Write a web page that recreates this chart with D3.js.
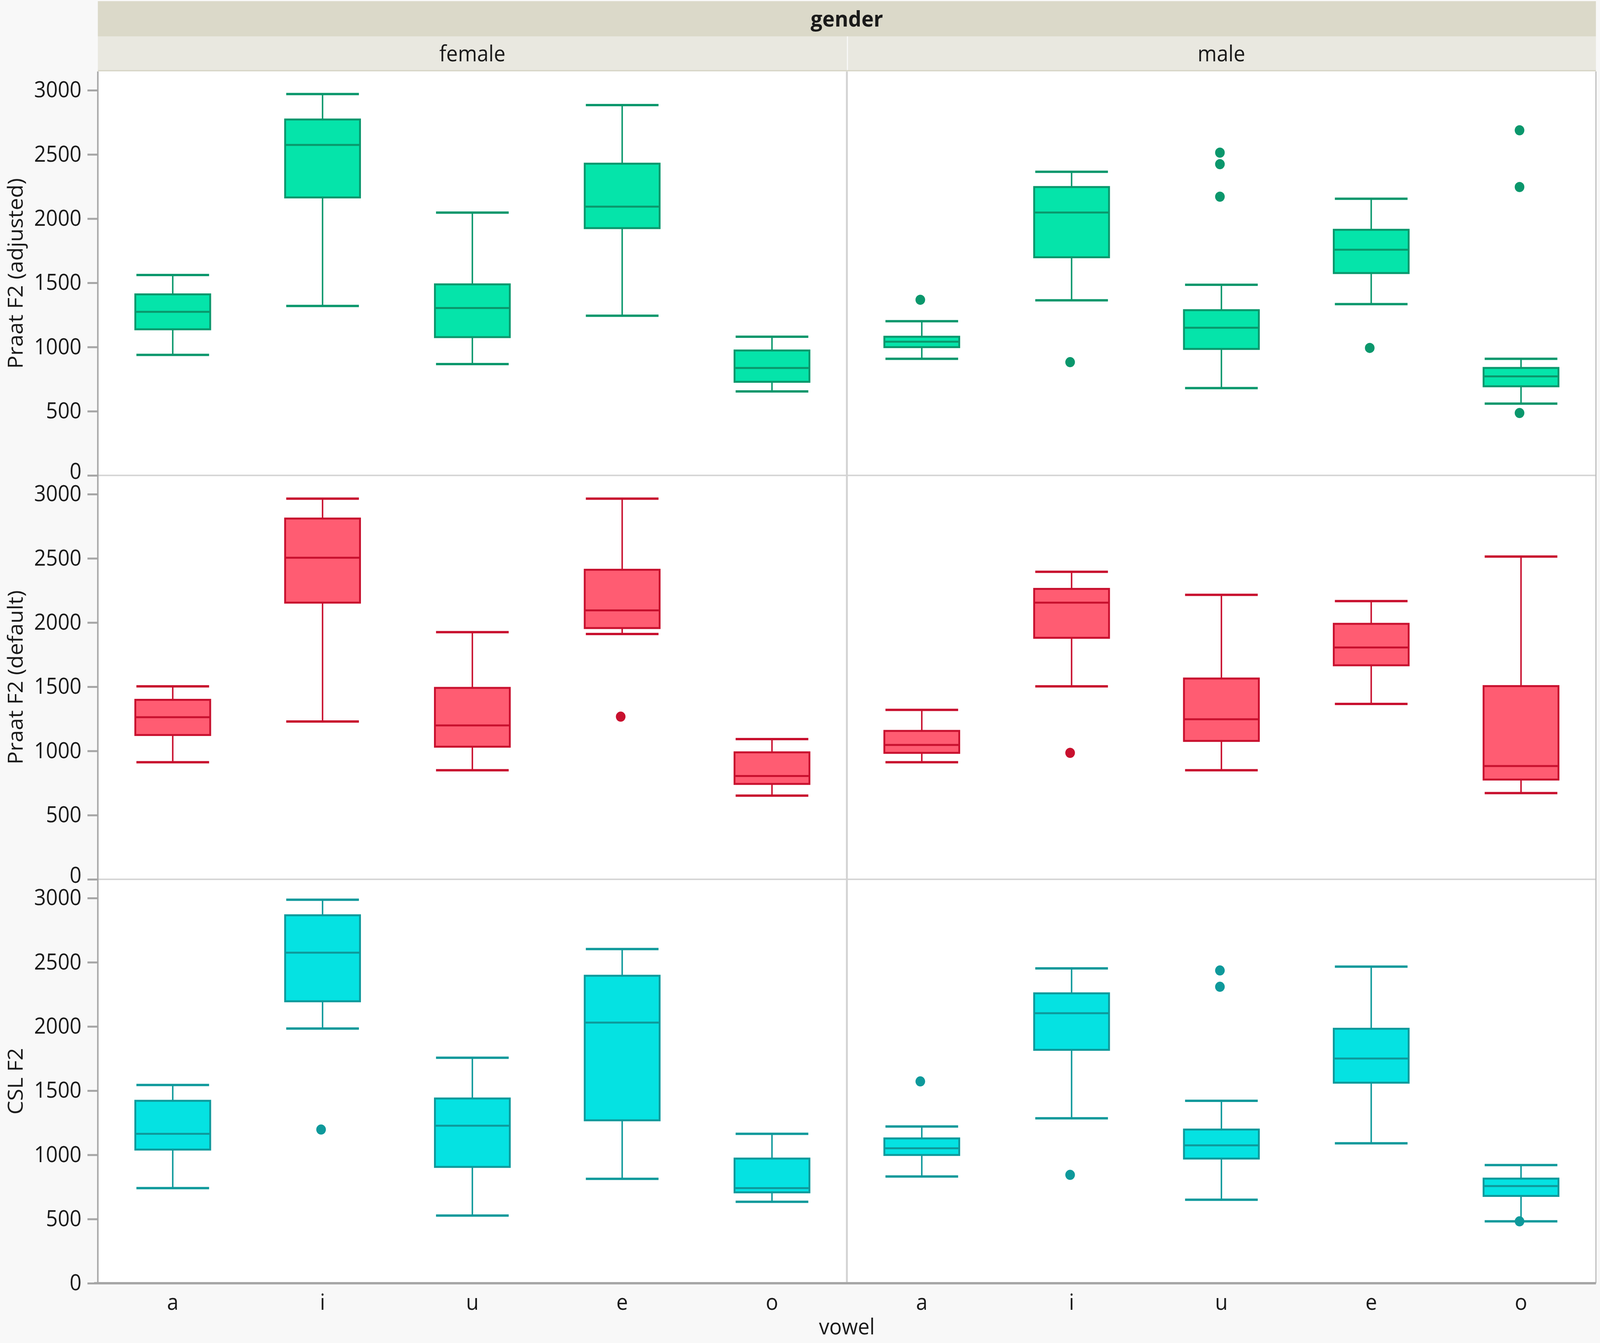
<!DOCTYPE html>
<html>
<head>
<meta charset="utf-8">
<script src="https://cdn.jsdelivr.net/npm/d3@7"></script>
<style>
  html, body { margin: 0; padding: 0; background: #f8f8f8; overflow: hidden; }
  svg { display: block; width: 100vw; height: 100vh; }
  text { font-family: "Open Sans", "Noto Sans", sans-serif; fill: #1a1a1a; }
</style>
</head>
<body>
<div id="chart"></div>
<script>
// categories
const vowels = ["a", "i", "u", "e", "o"];
const genders = ["female", "male"];
const measures = ["Praat F2 (adjusted)", "Praat F2 (default)", "CSL F2"];
const yTicks = [0, 500, 1000, 1500, 2000, 2500, 3000];

// box stats per vowel: [whisker low, q1, median, q3, whisker high]
const adjustedFemale = [[939, 1138, 1274, 1410, 1561], [1320, 2165, 2574, 2772, 2970], [867, 1077, 1304, 1488, 2047], [1244, 1926, 2093, 2428, 2884], [654, 729, 837, 973, 1080]];
const adjustedMale = [[908, 999, 1041, 1080, 1201], [1364, 1699, 2048, 2246, 2365], [680, 985, 1150, 1287, 1485], [1334, 1576, 1758, 1913, 2155], [559, 694, 771, 837, 908]];
const defaultFemale = [[912, 1124, 1263, 1398, 1503], [1229, 2155, 2505, 2810, 2965], [850, 1033, 1199, 1491, 1925], [1911, 1957, 2095, 2411, 2965], [652, 743, 805, 989, 1092]];
const defaultMale = [[912, 985, 1047, 1156, 1320], [1503, 1881, 2155, 2262, 2395], [850, 1078, 1247, 1564, 2216], [1366, 1667, 1806, 1990, 2167], [672, 777, 882, 1505, 2514]];
const cslFemale = [[741, 1041, 1164, 1421, 1544], [1984, 2196, 2575, 2866, 2987], [527, 906, 1227, 1439, 1756], [813, 1269, 2030, 2395, 2603], [634, 708, 741, 971, 1164]];
const cslMale = [[831, 999, 1051, 1128, 1221], [1285, 1818, 2103, 2258, 2452], [650, 971, 1074, 1197, 1421], [1090, 1562, 1750, 1982, 2466], [482, 680, 757, 815, 920]];

// outliers per vowel
const adjustedFemaleOut = [[], [], [], [], []];
const adjustedMaleOut = [[1368], [882], [2514, 2424, 2171], [993], [2688, 2246, 486]];
const defaultFemaleOut = [[], [], [], [1267], []];
const defaultMaleOut = [[], [985], [], [], []];
const cslFemaleOut = [[], [1197], [], [], []];
const cslMaleOut = [[1572], [844], [2436, 2309], [], [482]];

const panelStats = [[adjustedFemale, adjustedMale], [defaultFemale, defaultMale], [cslFemale, cslMale]];
const panelOut = [[adjustedFemaleOut, adjustedMaleOut], [defaultFemaleOut, defaultMaleOut], [cslFemaleOut, cslMaleOut]];

const rowFill = ["#05e4aa", "#ff5c72", "#05e2e2"];
const rowStroke = ["#0a976c", "#c8102e", "#0e999b"];

const W = 4317, H = 3438;
const plotLeft = 264, plotRight = 4306, mid = 2285;
const plotTop = 183, rowH = 1034;
const fs = 56;

// scale the drawing to whatever the window is
const svg = d3.select("#chart").append("svg")
  .attr("viewBox", `0 0 ${W} ${H}`)
  .attr("preserveAspectRatio", "none");

svg.append("rect").attr("width", W).attr("height", H).attr("fill", "#f8f8f8");

// header strips
svg.append("rect").attr("x", plotLeft).attr("y", 3).attr("width", plotRight - plotLeft).attr("height", 90).attr("fill", "#dbd9c9");
svg.append("text").attr("x", (plotLeft + plotRight) / 2).attr("y", 48).attr("dy", "0.35em")
  .attr("text-anchor", "middle").attr("font-size", fs).attr("font-weight", "bold").text("gender");

const panelX = [[plotLeft, mid], [mid, plotRight]];
genders.forEach((g, gi) => {
  const [x0, x1] = panelX[gi];
  svg.append("rect").attr("x", x0 + (gi ? 3 : 0)).attr("y", 93).attr("width", x1 - x0 - (gi ? 3 : 0)).attr("height", 88).attr("fill", "#e9e8e0");
  svg.append("text").attr("x", (x0 + x1) / 2).attr("y", 137).attr("dy", "0.35em")
    .attr("text-anchor", "middle").attr("font-size", fs).text(g);
});
svg.append("line").attr("x1", plotLeft).attr("x2", plotRight).attr("y1", 181).attr("y2", 181)
  .attr("stroke", "#d5d3c3").attr("stroke-width", 3);

// plot background
svg.append("rect").attr("x", plotLeft).attr("y", plotTop).attr("width", plotRight - plotLeft).attr("height", rowH * 3).attr("fill", "#fff");

measures.forEach((m, ri) => {
  const y0 = plotTop + ri * rowH, y1 = y0 + rowH;
  const y = d3.scaleLinear().domain([0, 3146]).range([y1, y0]);

  // row separator
  if (ri < 2) {
    svg.append("line").attr("x1", plotLeft).attr("x2", plotRight).attr("y1", y1).attr("y2", y1)
      .attr("stroke", "#d6d6d6").attr("stroke-width", 4);
  }

  const yAxis = svg.append("g").attr("transform", `translate(${plotLeft},0)`)
    .call(d3.axisLeft(y).tickValues(yTicks).tickFormat(d3.format("d"))
      .tickSize(28).tickSizeOuter(0).tickPadding(16));
  yAxis.select(".domain").remove();
  yAxis.selectAll(".tick line").attr("stroke", "#a6a6a6").attr("stroke-width", 5);
  yAxis.selectAll(".tick text").attr("font-size", fs).attr("fill", "#1a1a1a")
    .attr("font-family", "Open Sans, Noto Sans, sans-serif");
  // zero label sits a little high so it clears the next row's 3000
  if (ri < 2) yAxis.selectAll(".tick text").filter(d => d === 0).attr("dy", "0.15em");

  svg.append("text")
    .attr("transform", `translate(42,${(y0 + y1) / 2}) rotate(-90)`)
    .attr("dy", "0.35em").attr("text-anchor", "middle").attr("font-size", fs).text(m);

  genders.forEach((g, gi) => {
    const [x0, x1] = panelX[gi];
    const x = d3.scaleBand().domain(vowels).range([x0, x1]);
    const bw = x.bandwidth() * 0.5;
    const stats = panelStats[ri][gi];
    const outs = panelOut[ri][gi];
    const gp = svg.append("g");

    vowels.forEach((v, vi) => {
      const [lo, q1, med, q3, hi] = stats[vi];
      const cx = x(v) + x.bandwidth() / 2;
      const col = rowStroke[ri];
      // whiskers
      gp.append("line").attr("x1", cx).attr("x2", cx).attr("y1", y(hi)).attr("y2", y(q3))
        .attr("stroke", col).attr("stroke-width", 4);
      gp.append("line").attr("x1", cx).attr("x2", cx).attr("y1", y(q1)).attr("y2", y(lo))
        .attr("stroke", col).attr("stroke-width", 4);
      [lo, hi].forEach(w => {
        gp.append("line").attr("x1", cx - bw / 2 + 3).attr("x2", cx + bw / 2 - 3)
          .attr("y1", y(w)).attr("y2", y(w)).attr("stroke", col).attr("stroke-width", 6);
      });
      // box
      gp.append("rect").attr("x", cx - bw / 2).attr("y", y(q3))
        .attr("width", bw).attr("height", y(q1) - y(q3))
        .attr("fill", rowFill[ri]).attr("stroke", col).attr("stroke-width", 5);
      gp.append("line").attr("x1", cx - bw / 2).attr("x2", cx + bw / 2)
        .attr("y1", y(med)).attr("y2", y(med)).attr("stroke", col).attr("stroke-width", 5);
      // outliers
      gp.selectAll(null).data(outs[vi]).enter().append("circle")
        .attr("cx", cx - 4).attr("cy", d => y(d)).attr("r", 13).attr("fill", col);
    });

    if (ri === 2) {
      const xAxis = svg.append("g").attr("transform", `translate(0,${y1})`)
        .call(d3.axisBottom(x).tickSize(0).tickPadding(28));
      xAxis.select(".domain").remove();
      xAxis.selectAll(".tick text").attr("font-size", fs).attr("fill", "#1a1a1a")
        .attr("font-family", "Open Sans, Noto Sans, sans-serif");
    }
  });
});

// dividers and frame
const plotBottom = plotTop + rowH * 3;
svg.append("line").attr("x1", mid).attr("x2", mid).attr("y1", plotTop).attr("y2", plotBottom)
  .attr("stroke", "#d2d2d2").attr("stroke-width", 5);
svg.append("line").attr("x1", plotRight).attr("x2", plotRight).attr("y1", plotTop).attr("y2", plotBottom)
  .attr("stroke", "#bcbcbc").attr("stroke-width", 3);
svg.append("line").attr("x1", plotLeft).attr("x2", plotLeft).attr("y1", plotTop).attr("y2", plotBottom)
  .attr("stroke", "#a6a6a6").attr("stroke-width", 4);
svg.append("line").attr("x1", plotLeft - 10).attr("x2", plotRight).attr("y1", plotBottom).attr("y2", plotBottom)
  .attr("stroke", "#a6a6a6").attr("stroke-width", 6);

svg.append("text").attr("x", mid).attr("y", 3416).attr("text-anchor", "middle")
  .attr("font-size", fs).text("vowel");
</script>
</body>
</html>
